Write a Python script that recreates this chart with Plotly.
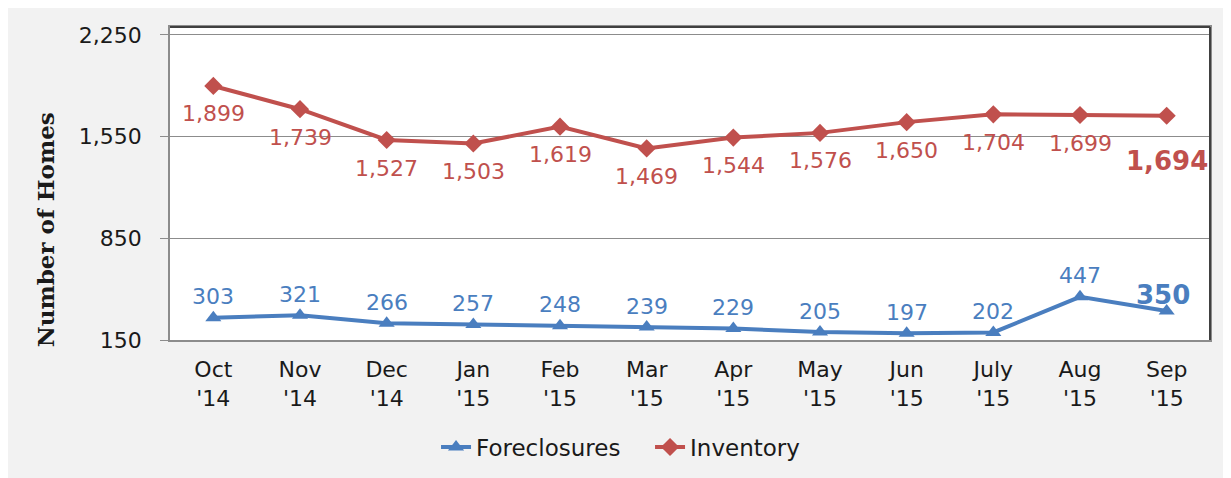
import plotly.graph_objects as go

months = ["Oct<br>'14", "Nov<br>'14", "Dec<br>'14", "Jan<br>'15", "Feb<br>'15", "Mar<br>'15",
          "Apr<br>'15", "May<br>'15", "Jun<br>'15", "July<br>'15", "Aug<br>'15", "Sep<br>'15"]
foreclosures = [303, 321, 266, 257, 248, 239, 229, 205, 197, 202, 447, 350]
inventory = [1899, 1739, 1527, 1503, 1619, 1469, 1544, 1576, 1650, 1704, 1699, 1694]
y_ticks = [150, 850, 1550, 2250]

BLUE = "#4a7ebf"
RED = "#c0504d"
FONT = "DejaVu Sans, sans-serif"

fig = go.Figure()
fig.add_trace(go.Scatter(x=months, y=foreclosures, name="Foreclosures", mode="lines+markers",
                         line=dict(color=BLUE, width=4),
                         marker=dict(symbol="triangle-up", size=14, color=BLUE)))
fig.add_trace(go.Scatter(x=months, y=inventory, name="Inventory", mode="lines+markers",
                         line=dict(color=RED, width=4),
                         marker=dict(symbol="diamond", size=14, color=RED)))

annotations = []
n = len(months)
for i in range(n):
    last = i == n - 1
    annotations.append(dict(
        x=months[i], y=inventory[i], xref="x", yref="y",
        text=(f"<b>{inventory[i]:,}</b>" if last else f"{inventory[i]:,}"),
        showarrow=False, yshift=-45 if last else -28, xshift=0,
        font=dict(family=FONT, size=26 if last else 22, color=RED)))
    annotations.append(dict(
        x=months[i], y=foreclosures[i], xref="x", yref="y",
        text=(f"<b>{foreclosures[i]:,}</b>" if last else f"{foreclosures[i]:,}"),
        showarrow=False, yshift=16 if last else 21, xshift=-4 if last else 0,
        font=dict(family=FONT, size=26 if last else 22, color=BLUE)))

annotations.append(dict(
    x=-0.12, y=0.351, xref="paper", yref="paper", xanchor="center", yanchor="middle",
    text="<b>Number of Homes</b>", textangle=-90, showarrow=False,
    font=dict(family="DejaVu Serif, serif", size=23, color="#1a1a1a")))

fig.update_layout(
    width=1223, height=478,
    margin=dict(l=162, r=21, t=19, b=146),
    paper_bgcolor="#f2f2f2", plot_bgcolor="white",
    font=dict(family=FONT, size=22, color="#1a1a1a"),
    showlegend=True,
    legend=dict(orientation="h", x=0.2558, xanchor="left", y=-0.342, yanchor="middle",
                entrywidth=169, entrywidthmode="pixels",
                font=dict(family=FONT, size=23, color="#1a1a1a"), bgcolor="rgba(0,0,0,0)"),
    annotations=annotations,
    shapes=[
        dict(type="line", xref="paper", yref="paper", x0=0, x1=1, y0=1, y1=1,
             line=dict(color="#404040", width=2)),
        dict(type="line", xref="paper", yref="paper", x0=1, x1=1, y0=0, y1=1,
             line=dict(color="#404040", width=2)),
    ],
    xaxis=dict(type="category", range=[-0.5, n - 0.5], showgrid=False,
               showline=True, linecolor="#8c8c8c", linewidth=1.5, mirror=True,
               ticks="", tickfont=dict(family=FONT, size=22, color="#1a1a1a"),
               ticklabelstandoff=9),
    yaxis=dict(range=[150, 2305], tickvals=y_ticks, ticktext=[f"{v:,}" for v in y_ticks],
               showgrid=True, gridcolor="#8c8c8c", gridwidth=1,
               showline=True, linecolor="#8c8c8c", linewidth=1.5, mirror=True,
               ticks="outside", ticklen=8, tickcolor="#8c8c8c", ticklabelstandoff=14,
               tickfont=dict(family=FONT, size=22, color="#1a1a1a"), zeroline=False),
)

fig.write_html("out.html")
